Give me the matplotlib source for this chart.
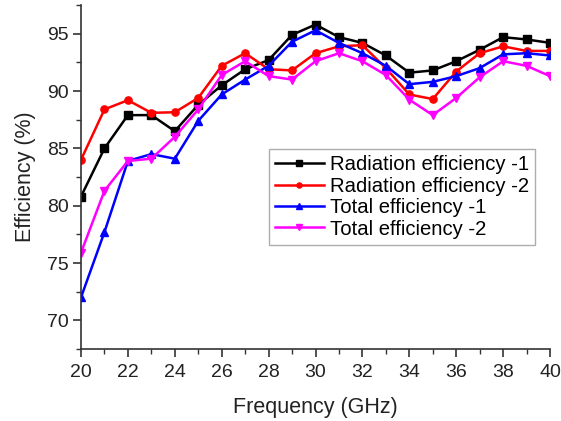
import matplotlib
matplotlib.use("Agg")
import matplotlib.pyplot as plt
from matplotlib.ticker import MultipleLocator

plt.rcParams['font.family'] = ['Liberation Sans', 'DejaVu Sans']

freq = list(range(20, 41))

rad_eff_1 = [80.8, 85.0, 87.9, 87.9, 86.5, 88.8, 90.5, 91.9, 92.7, 94.9, 95.8,
             94.7, 94.2, 93.1, 91.6, 91.8, 92.6, 93.6, 94.7, 94.5, 94.2]
rad_eff_2 = [84.0, 88.4, 89.2, 88.1, 88.15, 89.4, 92.2, 93.3, 91.9, 91.8, 93.3,
             93.9, 94.0, 92.0, 89.7, 89.3, 91.7, 93.3, 93.9, 93.5, 93.5]
tot_eff_1 = [72.0, 77.7, 83.9, 84.5, 84.1, 87.4, 89.7, 91.0, 92.2, 94.3, 95.3,
             94.2, 93.3, 92.2, 90.6, 90.8, 91.3, 92.0, 93.2, 93.3, 93.1]
tot_eff_2 = [75.9, 81.3, 83.9, 84.1, 86.0, 88.4, 91.4, 92.6, 91.3, 91.0, 92.6,
             93.3, 92.6, 91.4, 89.25, 87.9, 89.4, 91.2, 92.6, 92.2, 91.3]

series = [
    ("Radiation efficiency -1", rad_eff_1, "black", "s"),
    ("Radiation efficiency -2", rad_eff_2, "red", "o"),
    ("Total efficiency -1", tot_eff_1, "blue", "^"),
    ("Total efficiency -2", tot_eff_2, "magenta", "v"),
]

fig = plt.figure(figsize=(5.61, 4.21), dpi=100)
ax = fig.add_axes([0.1444, 0.171, 0.8360, 0.817])

for label, vals, color, marker in series:
    ax.plot(freq, vals, color=color, marker=marker, markersize=5.2,
            linewidth=1.8, label=label)

ax.set_xlim(20, 40)
ax.set_ylim(67.5, 97.5)
ax.xaxis.set_major_locator(MultipleLocator(2))
ax.xaxis.set_minor_locator(MultipleLocator(1))
ax.yaxis.set_major_locator(MultipleLocator(5))
ax.yaxis.set_minor_locator(MultipleLocator(2.5))

for side in ("top", "right"):
    ax.spines[side].set_visible(False)
for side in ("left", "bottom"):
    ax.spines[side].set_linewidth(1.2)
    ax.spines[side].set_color("#333333")

ax.tick_params(which="major", direction="out", length=6, width=1.2, pad=3,
               labelsize=14, colors="#333333", labelcolor="#222222")
ax.tick_params(axis="x", which="major", pad=5)
ax.tick_params(which="minor", direction="out", length=3.5, width=1.0,
               colors="#333333")
ax.set_yticks([70, 75, 80, 85, 90, 95])

ax.set_xlabel("Frequency (GHz)", fontsize=15.5, color="#222222", labelpad=11)
ax.set_ylabel("Efficiency (%)", fontsize=15.5, color="#222222", labelpad=8)

leg = ax.legend(loc="upper left", bbox_to_anchor=(0.401, 0.581),
                fontsize=14.6, frameon=True, fancybox=False,
                edgecolor="#999999", markerscale=0.7, handlelength=2.4,
                handletextpad=0.3, borderpad=0.3, labelspacing=0.12,
                borderaxespad=0)
leg.get_frame().set_linewidth(1.0)

fig.savefig("out.png", dpi=100)
